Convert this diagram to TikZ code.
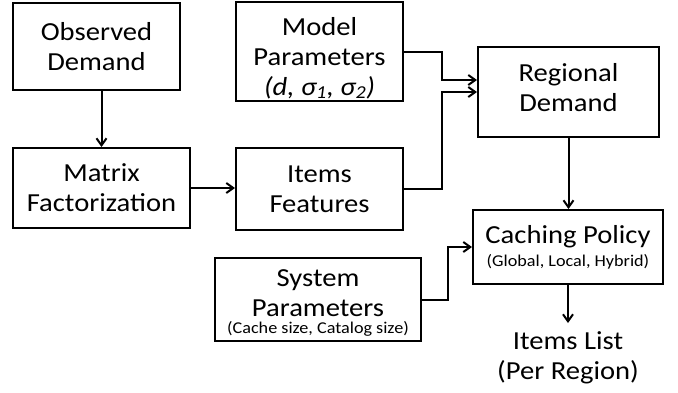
\documentclass[tikz,border=0pt]{standalone}
\usepackage{fontspec}
\setmainfont{Carlito}[FakeStretch=1.1]
\usetikzlibrary{arrows.meta, positioning, calc}
\newcommand{\smalltxt}[1]{{\fontsize{16.5}{18}\selectfont #1}}
% struts to nudge the text inside a box
\newcommand{\topstrut}[1]{\rule{0pt}{#1}}
\newcommand{\botstrut}[1]{\rule[-#1]{0pt}{#1}}
\tikzset{
  every picture/.style={line width=2pt},
  box/.style={draw, rectangle, align=center, inner sep=2pt, font=\fontsize{26}{30}\selectfont},
  arrow/.style={-{Straight Barb[length=7pt, width=10pt]}, line width=2pt},
  outtxt/.style={align=center, inner xsep=2pt, inner ysep=8pt, font=\fontsize{26}{30}\selectfont},
}
\begin{document}
\begin{tikzpicture}[x=1pt, y=-1pt]
  \useasboundingbox (0,0) rectangle (678,392);
  % input side
  \node[box, minimum width=167pt, minimum height=87pt] (od) at (96.5,46.5) {Observed\\Demand};
  \node[box, minimum width=177pt, minimum height=80pt] (mf) at (101.5,188) {Matrix\\Factorization};
  \node[box, minimum width=167pt, minimum height=97pt] (mp) at (319.5,51.5)
    {\topstrut{31pt}Model\\Parameters\\\textit{(d, σ\textsubscript{1}, σ\textsubscript{2})}};
  \node[box, minimum width=167pt, minimum height=82pt] (itf) at (319.5,189) {Items\\Features};
  \node[box, minimum width=206pt, minimum height=83pt] (sp) at (318,299.5)
    {\topstrut{23pt}System\\Parameters\\[-13pt]\smalltxt{(Cache size, Catalog size)}};
  % demand and policy
  \node[box, minimum width=181pt, minimum height=90pt] (rd) at (568.5,92) {Regional\\Demand\botstrut{10pt}};
  \node[box, minimum width=190pt, minimum height=74pt] (cp) at (568,247)
    {Caching Policy\\[-7pt]\smalltxt{(Global, Local, Hybrid)}};
  \node[outtxt, anchor=north] (il) at (568,323) {Items List\\(Per Region)};
  % connectors
  \draw[arrow] (od.south -| mf.north) -- (mf.north);
  \draw[arrow] (mf.east) -- (mf.east -| itf.west);
  \draw[arrow] (mp.east) -- ++(38,0) |- ($(rd.west)+(0,-12)$);
  \draw[arrow] (itf.east) -- ++(38,0) |- (rd.west);
  \draw[arrow] (rd.south) -- (rd.south |- cp.north);
  \draw[arrow] (sp.east) -- ++(26,0) |- (cp.west);
  \draw[arrow] (cp.south) -- (cp.south |- il.north);
\end{tikzpicture}
\end{document}
